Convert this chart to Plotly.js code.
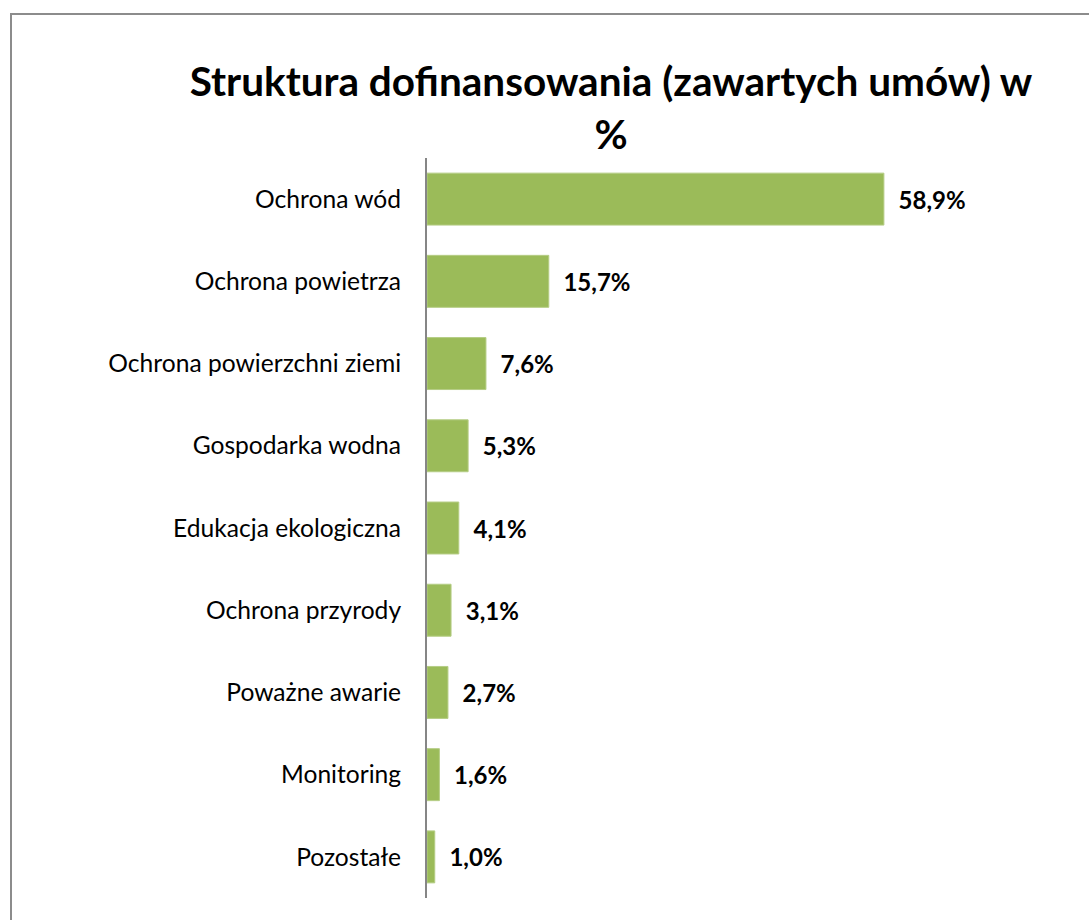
<!DOCTYPE html>
<html>
<head>
<meta charset="utf-8">
<script src="https://cdn.plot.ly/plotly-3.0.1.min.js"></script>
<style>
  html, body { margin: 0; padding: 0; background: #fff; }
  #wrap { position: relative; width: 1089px; height: 920px; overflow: hidden; }
  #frame { position: absolute; left: 10px; top: 13px; width: 1200px; height: 1000px;
           border-left: 2px solid #8c8c8c; border-top: 2px solid #8c8c8c; pointer-events: none; }
  #chart { position: absolute; left: 0; top: 0; width: 1089px; height: 920px; }
</style>
</head>
<body>
<div id="wrap">
  <div id="chart"></div>
  <div id="frame"></div>
</div>
<script>
const categories = [
  "Ochrona wód",
  "Ochrona powietrza",
  "Ochrona powierzchni ziemi",
  "Gospodarka wodna",
  "Edukacja ekologiczna",
  "Ochrona przyrody",
  "Poważne awarie",
  "Monitoring",
  "Pozostałe"
];
const values = [58.9, 15.7, 7.6, 5.3, 4.1, 3.1, 2.7, 1.6, 1.0];
const labels = values.map(v => "\u00a0\u00a0" + v.toFixed(1).replace(".", ",") + "%");
const titleText = "Struktura dofinansowania (zawartych umów) w<br>%";

const trace = {
  type: "bar",
  orientation: "h",
  y: categories,
  x: values,
  text: labels,
  textposition: "outside",
  cliponaxis: false,
  textfont: { family: "Lato, sans-serif", size: 24, color: "#000", weight: "bold" },
  marker: { color: "#9BBB59", line: { color: "#B5CD85", width: 1 } },
  hoverinfo: "none"
};

const layout = {
  width: 1089,
  height: 920,
  margin: { l: 427, r: 119, t: 158, b: 22 },
  paper_bgcolor: "#fff",
  plot_bgcolor: "#fff",
  showlegend: false,
  bargap: 0.368,
  title: {
    text: titleText,
    font: { family: "Lato, sans-serif", size: 40.5, color: "#000", weight: "bold" },
    x: 611 / 1089,
    xref: "container",
    xanchor: "center",
    y: 1 - 96 / 920,
    yref: "container",
    yanchor: "top"
  },
  xaxis: {
    range: [0, 70],
    visible: false,
    showgrid: false,
    zeroline: false,
    fixedrange: true
  },
  yaxis: {
    autorange: "reversed",
    showline: true,
    linecolor: "#868686",
    linewidth: 2,
    ticks: "",
    showgrid: false,
    zeroline: false,
    ticklabelstandoff: 19,
    tickfont: { family: "Lato, sans-serif", size: 24.6, color: "#000" },
    fixedrange: true
  }
};

Plotly.newPlot("chart", [trace], layout, { displayModeBar: false, staticPlot: true });
</script>
</body>
</html>
